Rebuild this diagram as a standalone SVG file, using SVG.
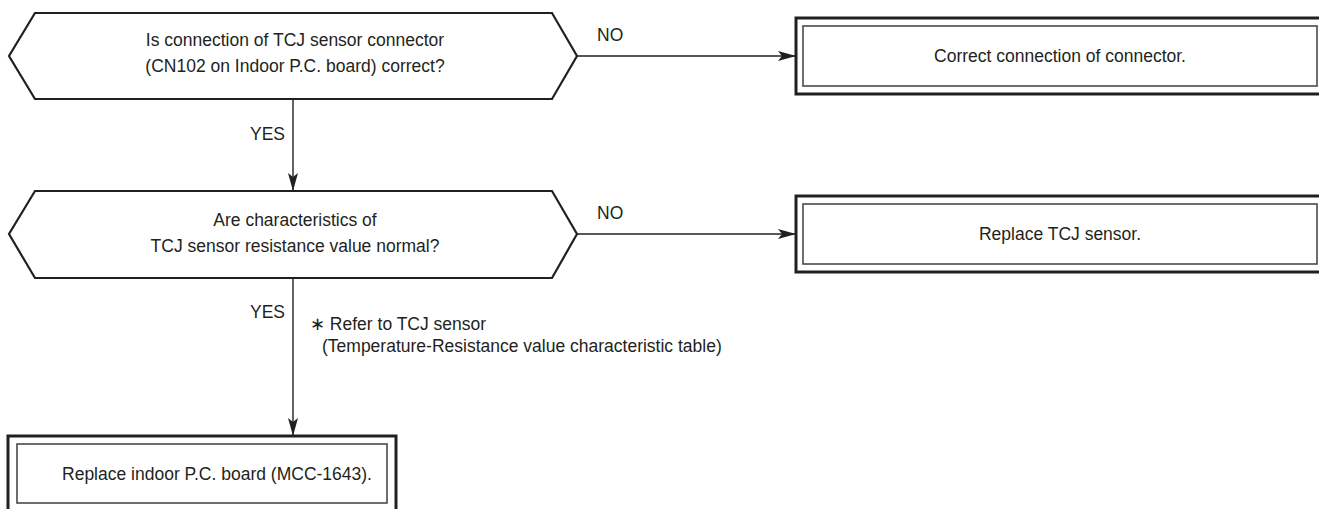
<svg xmlns="http://www.w3.org/2000/svg" width="1319" height="509" viewBox="0 0 1319 509">
<defs>
<marker id="arr" viewBox="0 0 18 10" markerWidth="18" markerHeight="10" refX="18" refY="5" orient="auto" markerUnits="userSpaceOnUse">
<path d="M0,0 L18,5 L0,10 L4,5 z" fill="#231f20"/>
</marker>
<style>
.t{font-family:"Liberation Sans",Arial,sans-serif;font-size:17.5px;fill:#231f20}
.dec{fill:#fff;stroke:#231f20;stroke-width:2.2}
.ob{fill:#fff;stroke:#231f20;stroke-width:3}
.ib{fill:none;stroke:#4a4a4a;stroke-width:1.6}
.ln{stroke:#231f20;stroke-width:1.4;fill:none}
</style>
</defs>
<rect width="1319" height="509" fill="#fff"/>
<g id="connectors">
<line class="ln" x1="577" y1="56" x2="796" y2="56" marker-end="url(#arr)"/>
<line class="ln" x1="577" y1="234" x2="796" y2="234" marker-end="url(#arr)"/>
<line class="ln" x1="293" y1="99" x2="293" y2="191" marker-end="url(#arr)"/>
<line class="ln" x1="293" y1="278" x2="293" y2="436" marker-end="url(#arr)"/>
<text class="t" x="597" y="41">NO</text>
<text class="t" x="597" y="219">NO</text>
<text class="t" x="250" y="140">YES</text>
<text class="t" x="250" y="318">YES</text>
<text class="t" x="310" y="330">∗ Refer to TCJ sensor</text>
<text class="t" x="322" y="352">(Temperature-Resistance value characteristic table)</text>
</g>
<g id="decision1">
<polygon class="dec" points="35,13 552,13 577,56 552,99 35,99 9,56"/>
<text class="t" x="295" y="46" text-anchor="middle">Is connection of TCJ sensor connector</text>
<text class="t" x="295" y="72" text-anchor="middle">(CN102 on Indoor P.C. board) correct?</text>
</g>
<g id="box1">
<rect class="ob" x="796" y="18" width="530" height="76"/>
<rect class="ib" x="803" y="26" width="514" height="60"/>
<text class="t" x="1060" y="62" text-anchor="middle">Correct connection of connector.</text>
</g>
<g id="decision2">
<polygon class="dec" points="35,191 552,191 577,234 552,278 35,278 9,234"/>
<text class="t" x="295" y="226" text-anchor="middle">Are characteristics of</text>
<text class="t" x="295" y="252" text-anchor="middle">TCJ sensor resistance value normal?</text>
</g>
<g id="box2">
<rect class="ob" x="796" y="196" width="530" height="76"/>
<rect class="ib" x="803" y="204" width="514" height="60"/>
<text class="t" x="1060" y="240" text-anchor="middle">Replace TCJ sensor.</text>
</g>
<g id="box3">
<rect class="ob" x="8" y="436" width="388" height="80"/>
<rect class="ib" x="17" y="444" width="370" height="59"/>
<text class="t" x="217" y="480" text-anchor="middle">Replace indoor P.C. board (MCC-1643).</text>
</g>
</svg>
